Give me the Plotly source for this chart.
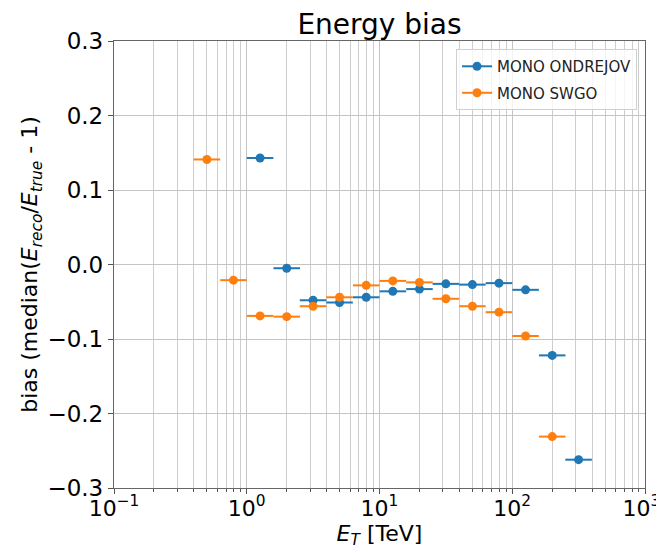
import plotly.graph_objects as go

# ---- data ----
ondrejov_energy = [1.26, 2.0, 3.16, 5.0, 7.94, 12.6, 20.0, 31.6, 50.1, 79.4, 126.0, 200.0, 316.0]
ondrejov_bias = [0.143, -0.005, -0.048, -0.051, -0.044, -0.036, -0.033, -0.026, -0.027, -0.025, -0.034, -0.122, -0.262]

swgo_energy = [0.501, 0.794, 1.26, 2.0, 3.16, 5.0, 7.94, 12.6, 20.0, 31.6, 50.1, 79.4, 126.0, 200.0]
swgo_bias = [0.141, -0.021, -0.069, -0.070, -0.056, -0.044, -0.028, -0.022, -0.024, -0.046, -0.056, -0.064, -0.096, -0.231]

bin_half_width_decades = 0.1  # bins are 0.2 decades wide

x_tickvals = [0.1, 1, 10, 100, 1000]
x_ticktext = ["10<sup>\u22121</sup>", "10<sup>0</sup>", "10<sup>1</sup>", "10<sup>2</sup>",
              "10<sup>3</sup>\u00a0"]
y_tickvals = [-0.3, -0.2, -0.1, 0.0, 0.1, 0.2, 0.3]
y_ticktext = ["\u22120.3", "\u22120.2", "\u22120.1", "0.0", "0.1", "0.2", "0.3"]

BLUE = "#1f77b4"
ORANGE = "#ff7f0e"
FONT = "DejaVu Sans"


def err(xs):
    f = 10 ** bin_half_width_decades
    plus = [x * f - x for x in xs]
    minus = [x - x / f for x in xs]
    return plus, minus


minor_vals = [k * 10 ** e for e in range(-1, 3) for k in range(2, 10)]

fig = go.Figure()
for name, xs, ys, col in [("MONO ONDREJOV", ondrejov_energy, ondrejov_bias, BLUE),
                          ("MONO SWGO", swgo_energy, swgo_bias, ORANGE)]:
    p, m = err(xs)
    fig.add_trace(go.Scatter(
        x=xs, y=ys, mode="markers", name=name, showlegend=False,
        marker=dict(color=col, size=9),
        error_x=dict(type="data", array=p, arrayminus=m, symmetric=False,
                     color=col, thickness=2, width=0),
    ))
    # legend proxy
    fig.add_trace(go.Scatter(
        x=[None], y=[None], mode="lines+markers", name=name, legendgroup=name,
        marker=dict(color=col, size=9), line=dict(color=col, width=2),
    ))

# page body has an 8px default margin, so the figure is sized to fit the window
fig.update_layout(
    width=656, height=545,
    margin=dict(l=106, r=19, t=33, b=65, autoexpand=False),
    paper_bgcolor="white", plot_bgcolor="white",
    font=dict(family=FONT, size=23, color="black"),
    title=dict(text="Energy bias", x=0.5, xref="paper", xanchor="center",
               y=1, yref="paper", yanchor="bottom", pad=dict(b=7),
               font=dict(size=28, family=FONT, color="black"), automargin=False),
    legend=dict(x=0.985, y=0.982, xanchor="right", yanchor="top",
                bgcolor="rgba(255,255,255,0.8)", bordercolor="#d0d0d0", borderwidth=1,
                tracegroupgap=4,
                font=dict(size=15, family=FONT, color="#222")),
    showlegend=True,
)

fig.update_xaxes(
    type="log", range=[-1.0000001, 3.0000001], automargin=False,
    tickmode="array", tickvals=x_tickvals, ticktext=x_ticktext,
    ticks="outside", ticklen=5, tickwidth=1, tickcolor="#555",
    ticklabelstandoff=-5, ticklabeloverflow="allow",
    showgrid=True, gridcolor="#c4c4c4", gridwidth=1.2,
    minor=dict(tickmode="array", tickvals=minor_vals, ticks="outside", ticklen=3,
               tickcolor="#555", showgrid=True, gridcolor="#cdcdcd", gridwidth=1),
    showline=True, linecolor="#666", linewidth=1.3, mirror=True,
    title=dict(text="<i>E</i><sub><i>T</i></sub> [TeV]", standoff=4, font=dict(size=22)),
    tickfont=dict(size=22),
    zeroline=False,
)
fig.update_yaxes(
    range=[-0.3, 0.3], automargin=False,
    tickmode="array", tickvals=y_tickvals, ticktext=y_ticktext,
    ticks="outside", ticklen=5, tickwidth=1, tickcolor="#555",
    ticklabeloverflow="allow",
    showgrid=True, gridcolor="#c4c4c4", gridwidth=1.2,
    showline=True, linecolor="#666", linewidth=1.3, mirror=True,
    title=dict(text="bias (median(<i>E</i><sub><i>reco</i></sub>/<i>E</i><sub><i>true</i></sub> - 1)",
               standoff=3, font=dict(size=22)),
    tickfont=dict(size=23),
    zeroline=False,
)

fig.write_html("out.html")
